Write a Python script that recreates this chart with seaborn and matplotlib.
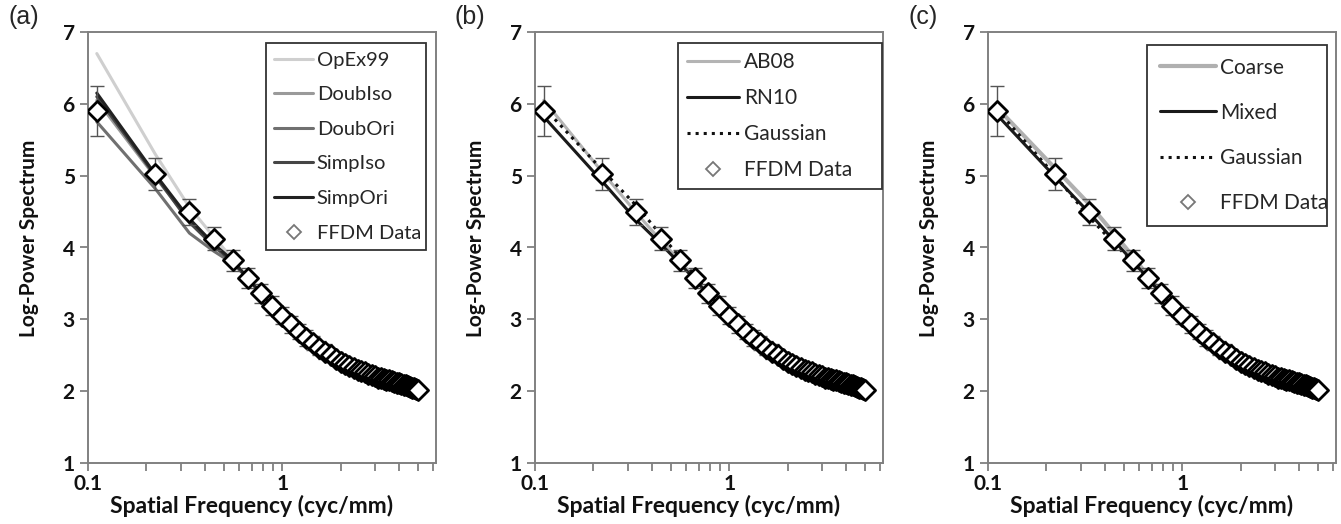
import matplotlib
matplotlib.use("Agg")

import matplotlib.pyplot as plt
import seaborn as sns
from matplotlib.lines import Line2D
from matplotlib.ticker import FixedLocator, NullFormatter, FixedFormatter

# spatial frequency (cyc/mm)
freq = [0.111, 0.222, 0.333, 0.444, 0.556, 0.667, 0.778, 0.889, 1.000,
        1.111, 1.222, 1.333, 1.444, 1.556, 1.667, 1.778, 1.889, 2.000,
        2.111, 2.222, 2.333, 2.444, 2.556, 2.667, 2.778, 2.889, 3.000,
        3.111, 3.222, 3.333, 3.444, 3.556, 3.667, 3.778, 3.889, 4.000,
        4.111, 4.222, 4.333, 4.444, 4.556, 4.667, 4.778, 4.889, 5.000]

# FFDM measured log-power spectrum and error
ffdm = [5.90, 5.02, 4.50, 4.12, 3.82, 3.57, 3.36, 3.19, 3.05,
        2.93, 2.83, 2.74, 2.67, 2.60, 2.55, 2.50, 2.45, 2.41,
        2.38, 2.35, 2.32, 2.30, 2.28, 2.26, 2.24, 2.22, 2.21,
        2.19, 2.18, 2.17, 2.16, 2.15, 2.14, 2.13, 2.12, 2.11,
        2.10, 2.09, 2.08, 2.07, 2.06, 2.05, 2.04, 2.03, 2.01]
ffdm_err = [0.35, 0.22, 0.18, 0.16, 0.15, 0.14, 0.13, 0.13, 0.12,
            0.12, 0.11, 0.11, 0.10, 0.10, 0.10, 0.09, 0.09, 0.09,
            0.09, 0.08, 0.08, 0.08, 0.08, 0.08, 0.07, 0.07, 0.07,
            0.07, 0.07, 0.07, 0.06, 0.06, 0.06, 0.06, 0.06, 0.06,
            0.06, 0.06, 0.05, 0.05, 0.05, 0.05, 0.05, 0.05, 0.05]

# model curves: low-frequency part, the rest lies under the data
opex99 = [6.70, 5.30, 4.56, 4.15, 3.84] + ffdm[5:]
doubiso = [6.05, 4.98, 4.38, 4.04, 3.80] + ffdm[5:]
doubori = [5.75, 4.82, 4.20, 3.95, 3.78] + ffdm[5:]
simpiso = [6.10, 5.00, 4.35, 4.02, 3.80] + ffdm[5:]
simpori = [6.15, 5.02, 4.40, 4.05, 3.82] + ffdm[5:]

ab08 = [6.05, 5.05, 4.48, 4.10, 3.82] + ffdm[5:]
rn10 = [5.82, 4.92, 4.38, 4.05, 3.78, 3.55, 3.35] + ffdm[7:]
gauss_b = [5.95, 5.08, 4.58, 4.18, 3.87, 3.60, 3.38] + ffdm[7:]

coarse = [5.95, 5.10, 4.60, 4.20, 3.88, 3.60, 3.38, 3.18, 3.00,
          2.87, 2.76, 2.68, 2.60, 2.55, 2.50, 2.46, 2.42, 2.39] + ffdm[18:]
mixed = [5.85, 4.98, 4.48, 4.10, 3.81] + ffdm[5:]
gauss_c = [5.92, 5.00, 4.42, 4.06, 3.80] + ffdm[5:]

panels = [
    ("(a)", [("OpEx99", opex99, "#cfcfcf", "-"),
             ("DoubIso", doubiso, "#9a9a9a", "-"),
             ("DoubOri", doubori, "#707070", "-"),
             ("SimpIso", simpiso, "#454545", "-"),
             ("SimpOri", simpori, "#222222", "-")]),
    ("(b)", [("AB08", ab08, "#b4b4b4", "-"),
             ("RN10", rn10, "#1a1a1a", "-"),
             ("Gaussian", gauss_b, "#111111", ":")]),
    ("(c)", [("Coarse", coarse, "#b0b0b0", "-"),
             ("Mixed", mixed, "#1a1a1a", "-"),
             ("Gaussian", gauss_c, "#111111", ":")]),
]

sns.set_theme(style="white")
plt.rcParams["font.family"] = ["Lato", "DejaVu Sans"]

fig = plt.figure(figsize=(13.41, 5.24), dpi=100)
W, H = 1341, 524
AX_W, AX_TOP, AX_BOT = 348, 32, 463
AX_H = AX_BOT - AX_TOP
lefts = [88, 535, 988]
# legend boxes in pixels: left, right, top; then font size, handle length,
# label spacing, border pad
leg_boxes = [(266, 426, 43, 14.5, 1.9, 0.87, 0.42),
             (678, 882, 43, 15, 2.5, 0.76, 0.45),
             (1147, 1327, 45, 15, 2.7, 1.21, 0.6)]

for (tag, models), left, lb in zip(panels, lefts, leg_boxes):
    ax = fig.add_axes([left / W, 1 - AX_BOT / H, AX_W / W, AX_H / H])
    ax.set_xscale("log")

    handles = []
    for name, vals, color, ls in models:
        lw = 3.0 if name == "Coarse" else 2.2
        sns.lineplot(x=freq, y=vals, ax=ax, color=color, lw=lw, linestyle=ls,
                     sort=False, legend=False, zorder=2)
        handles.append(Line2D([], [], color=color, lw=lw, linestyle=ls, label=name))

    ax.errorbar(freq, ffdm, yerr=ffdm_err, fmt="none", ecolor="#555555",
                elinewidth=1.0, capsize=5, capthick=1.0, zorder=3)
    sns.scatterplot(x=freq, y=ffdm, ax=ax, marker="D", s=105, facecolor="white",
                    edgecolor="black", linewidth=2.0, zorder=4, legend=False)
    handles.append(Line2D([], [], marker="D", ls="none", markersize=7,
                          markerfacecolor="white", markeredgecolor="#777777",
                          markeredgewidth=1.3, label="FFDM Data"))

    ax.set_xlim(0.1, 6.2)
    ax.set_ylim(1, 7)
    ax.set_yticks([1, 2, 3, 4, 5, 6, 7])
    ax.xaxis.set_major_locator(FixedLocator([0.1, 1]))
    ax.xaxis.set_major_formatter(FixedFormatter(["0.1", "1"]))
    ax.xaxis.set_minor_locator(FixedLocator([0.2, 0.3, 0.4, 0.5, 0.6, 0.7, 0.8, 0.9,
                                             2, 3, 4, 5, 6]))
    ax.xaxis.set_minor_formatter(NullFormatter())
    ax.tick_params(axis="both", which="both", direction="out", length=6, width=1.3,
                   color="#808080", bottom=True, left=True, top=False, right=False)
    ax.tick_params(axis="both", which="major", labelsize=15)
    ax.tick_params(axis="x", which="major", pad=2)
    for lab in ax.get_xticklabels() + ax.get_yticklabels():
        lab.set_fontweight("bold")
        lab.set_color("#111111")
    for sp in ax.spines.values():
        sp.set_color("#808080")
        sp.set_linewidth(1.4)

    ax.set_xlabel("Spatial Frequency (cyc/mm)", fontsize=16.5, fontweight="bold",
                  color="#111111")
    ax.set_ylabel("Log-Power Spectrum", fontsize=15, fontweight="bold",
                  color="#111111")
    ax.xaxis.set_label_coords((252 - 88) / AX_W, -(495 - AX_BOT) / AX_H)
    ax.yaxis.set_label_coords(-(88 - 39) / AX_W, (AX_BOT - 238) / AX_H)

    lx0, lx1, ltop, lfs, hlen, lsp, bpad = lb
    leg = ax.legend(handles=handles, loc="upper left", mode="expand",
                    bbox_to_anchor=((lx0 - left) / AX_W, 0,
                                    (lx1 - lx0) / AX_W, (AX_BOT - ltop) / AX_H),
                    fontsize=lfs, frameon=True, fancybox=False, framealpha=1,
                    edgecolor="#333333", handlelength=hlen, handletextpad=0.2,
                    labelspacing=lsp, borderpad=bpad, borderaxespad=0)
    leg.get_frame().set_linewidth(1.3)

    fig.text((left - 80) / W, 1 - 17 / H, tag, fontsize=18,
             family="Liberation Sans", va="center", ha="left")

fig.savefig("out.png", dpi=100)
